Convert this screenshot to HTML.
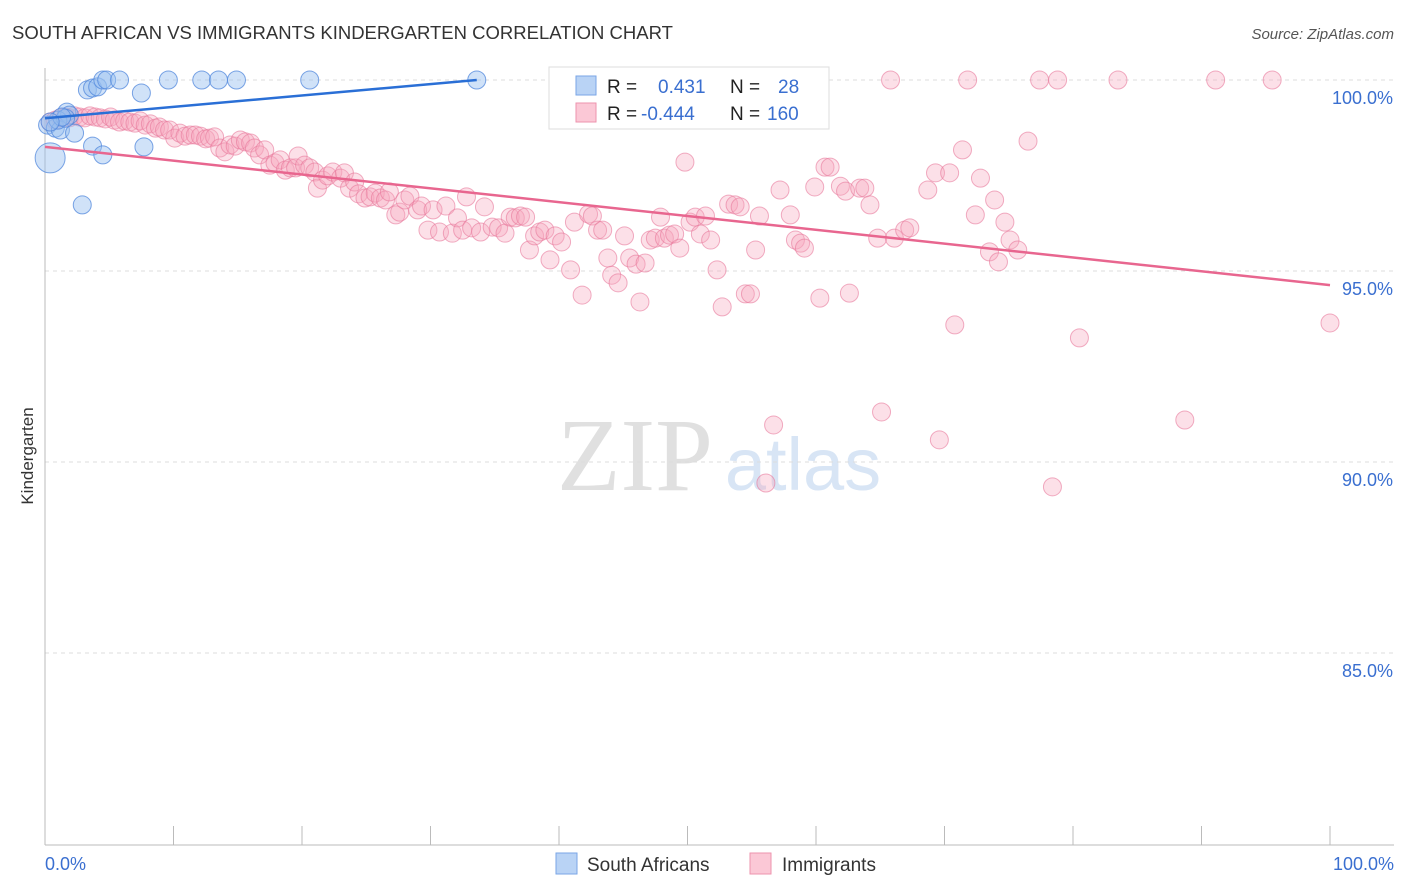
<!DOCTYPE html>
<html><head><meta charset="utf-8"><style>
body{margin:0;background:#fff;font-family:"Liberation Sans",sans-serif}
svg{display:block}
</style></head><body>
<svg id="chart" width="1406" height="892">
<text x="12" y="39" font-size="18.5" fill="#333">SOUTH AFRICAN VS IMMIGRANTS KINDERGARTEN CORRELATION CHART</text>
<text x="1394" y="39" font-size="15" fill="#555" text-anchor="end" font-style="italic">Source: ZipAtlas.com</text>
<text x="635" y="490" font-size="104" fill="#e0e0e0" text-anchor="middle" font-family="Liberation Serif,serif">ZIP</text>
<text x="803" y="490" font-size="74" fill="#d8e5f5" text-anchor="middle">atlas</text>
<text x="33" y="456" font-size="17" fill="#333" text-anchor="middle" transform="rotate(-90 33 456)">Kindergarten</text>
<g id="grid"></g><g id="pts"></g><g id="lines"></g>
<g>
<rect x="549" y="67" width="280" height="62" fill="#fff" stroke="#ddd"/>
<rect x="576" y="76" width="20" height="19" fill="#b9d3f5" stroke="#7aa6e6"/>
<rect x="576" y="103" width="20" height="19" fill="#fbc8d6" stroke="#ee93ae"/>
<text x="607" y="93" font-size="19" fill="#222">R =</text>
<text x="658" y="93" font-size="19" fill="#3a6fd0">0.431</text>
<text x="730" y="93" font-size="19" fill="#222">N =</text>
<text x="778" y="93" font-size="19" fill="#3a6fd0">28</text>
<text x="607" y="120" font-size="19" fill="#222">R =</text>
<text x="641" y="120" font-size="19" fill="#3a6fd0">-0.444</text>
<text x="730" y="120" font-size="19" fill="#222">N =</text>
<text x="767" y="120" font-size="19" fill="#3a6fd0">160</text>
</g>
<g>
<rect x="556" y="853" width="21" height="21" fill="#b9d3f5" stroke="#7aa6e6"/>
<text x="587" y="871" font-size="19" fill="#333">South Africans</text>
<rect x="750" y="853" width="21" height="21" fill="#fbc8d6" stroke="#ee93ae"/>
<text x="782" y="871" font-size="19" fill="#333">Immigrants</text>
</g>
</svg>
<script>
const yTicks=[100,95,90,85];
const yTickLabels=["100.0%","95.0%","90.0%","85.0%"];
const xTickLabels=["0.0%","100.0%"];
const saX=[0.4,0.2,0.8,1.2,1.7,1.9,2.3,3.3,3.7,4.1,4.5,4.8,5.8,7.5,3.7,4.5,7.7,2.9,9.6,12.2,13.5,14.9,20.6,33.6,1.0,1.6,1.3,0.4];
const saY=[97.96,98.82,98.74,98.69,99.16,99.08,98.61,99.74,99.79,99.82,100,100,100,99.66,98.27,98.04,98.25,96.73,100,100,100,100,100,100,98.95,99.0,99.03,98.9];
const imX=[.4,.8,1.2,1.6,1.9,2.3,2.7,3.1,3.5,3.9,4.3,4.7,5.1,5.4,5.8,6.2,6.6,7.0,7.4,7.8,8.2,8.6,8.9,9.3,9.7,10.1,10.5,10.9,11.3,11.7,12.1,12.5,12.8,13.2,13.6,14.0,14.4,14.8,15.2,15.6,16.0,16.3,16.7,17.1,17.5,17.9,18.3,18.7,19.1,19.5,19.7,20.2,20.6,21.0,21.2,21.6,22.0,22.4,23.0,23.3,23.7,24.1,24.4,24.9,25.3,25.7,26.1,26.5,26.8,27.3,27.6,28.0,28.4,29.0,29.3,29.8,30.2,30.7,31.2,31.7,32.1,32.5,32.8,33.2,33.9,34.2,34.8,35.3,35.8,36.2,36.6,37.0,37.4,37.7,38.1,38.5,38.9,39.3,39.7,40.2,40.9,41.2,41.8,42.3,42.6,43.0,43.4,43.8,44.1,44.6,45.1,45.5,46.0,46.3,46.7,47.1,47.5,47.9,48.2,48.6,49.0,49.4,49.8,50.2,50.6,51.0,51.4,51.8,52.3,52.7,53.2,53.7,54.1,54.5,54.9,55.3,55.6,57.2,58.0,58.4,58.8,59.1,59.9,60.3,60.7,61.1,61.9,62.3,62.6,63.4,63.8,64.2,64.8,65.1,65.8,66.1,66.9,67.3,68.7,69.3,69.6,70.4,70.8,71.4,71.8,72.4,72.8,73.5,73.9,74.2,74.7,75.1,75.7,76.5,77.4,78.4,78.8,80.5,83.5,88.7,91.1,95.5,100,56.7,56.1,60.0,54.7];
const imY=[98.90,98.95,99.01,99.03,99.01,99.06,99.03,99.01,99.06,99.03,99.01,98.98,99.03,98.95,98.90,98.93,98.90,98.87,98.93,98.82,98.85,98.74,98.77,98.69,98.69,98.48,98.61,98.53,98.56,98.56,98.53,98.46,98.48,98.51,98.22,98.12,98.30,98.27,98.43,98.38,98.35,98.22,98.04,98.17,97.77,97.83,97.91,97.64,97.70,97.70,98.01,97.77,97.70,97.59,97.17,97.38,97.49,97.59,97.43,97.57,97.17,97.33,97.02,96.91,96.94,97.04,96.91,96.86,97.07,96.47,96.54,96.86,96.96,96.60,96.70,96.07,96.60,96.02,96.70,95.99,96.39,96.07,96.94,96.13,96.02,96.68,96.15,96.13,95.99,96.41,96.39,96.44,96.41,95.55,95.92,96.02,96.07,95.29,95.92,95.76,95.03,96.28,94.37,96.49,96.44,96.07,96.07,95.34,94.89,94.69,95.92,95.34,95.18,94.19,95.21,95.81,95.86,96.41,95.86,95.94,95.97,95.60,97.85,96.28,96.41,95.97,96.44,95.81,95.03,94.06,96.75,96.73,96.68,94.40,94.40,95.55,96.44,97.12,96.47,95.81,95.73,95.60,97.20,94.29,97.72,97.72,97.22,97.09,94.42,97.17,97.17,96.73,95.86,91.31,100,95.86,96.07,96.13,97.12,97.57,90.58,97.57,93.59,98.17,100,96.47,97.43,95.50,96.86,95.24,96.28,95.81,95.55,98.40,100,89.35,100,93.25,100,91.10,100,100,93.64,90.97,89.45,99.14,100];
const saLine=[[0,99.0],[33.6,100]];
const imLine=[[0,98.25],[100,94.63]];
const NS="http://www.w3.org/2000/svg";
const X=v=>45+v*12.85, Y=v=>80+(100-v)*38.2;
function mk(tag,a,parent){const e=document.createElementNS(NS,tag);for(const k in a)e.setAttribute(k,a[k]);parent.appendChild(e);return e;}
const grid=document.getElementById('grid');
yTicks.forEach((t,i)=>{
 const l=mk('line',{x1:45,x2:1394,y1:Y(t),y2:Y(t),stroke:'#ddd','stroke-dasharray':'4 4'},grid);
 
 
 const tx=mk('text',{x:1393,y:Y(t)+24,'font-size':18,fill:'#3a6fd0','text-anchor':'end'},grid);
 tx.textContent=yTickLabels[i];
 
 
});
const ax=mk('line',{x1:45,x2:45,y1:68,y2:845,stroke:'#bbb'},grid);


const bx=mk('line',{x1:45,x2:1394,y1:845,y2:845,stroke:'#bbb'},grid);


for(let k=0;k<=10;k++){const t=mk('line',{x1:X(k*10),x2:X(k*10),y1:826,y2:845,stroke:'#bbb'},grid);
 
 }
[[0,'start',45],[100,'end',1394]].forEach((d,i)=>{const t=mk('text',{x:d[2],y:870,'font-size':18,fill:'#3a6fd0','text-anchor':d[1]},grid);t.textContent=xTickLabels[i];
 
 });
const pts=document.getElementById('pts');
imX.forEach((x,i)=>{const c=mk('circle',{cx:X(x),cy:Y(imY[i]),r:9,fill:'rgba(246,165,190,0.35)',stroke:'rgba(232,120,155,0.6)'},pts);
 
 });
saX.forEach((x,i)=>{const c=mk('circle',{cx:X(x),cy:Y(saY[i]),r:i==0?15:9,fill:'rgba(150,190,240,0.45)',stroke:'rgba(80,135,220,0.75)'},pts);
 
 });
const lines=document.getElementById('lines');
const l1=mk('line',{x1:X(saLine[0][0]),y1:Y(saLine[0][1]),x2:X(saLine[1][0]),y2:Y(saLine[1][1]),stroke:'#2a6fd6','stroke-width':2.5},lines);


const l2=mk('line',{x1:X(imLine[0][0]),y1:Y(imLine[0][1]),x2:X(imLine[1][0]),y2:Y(imLine[1][1]),stroke:'#e8668f','stroke-width':2.5},lines);


</script>
</body></html>
